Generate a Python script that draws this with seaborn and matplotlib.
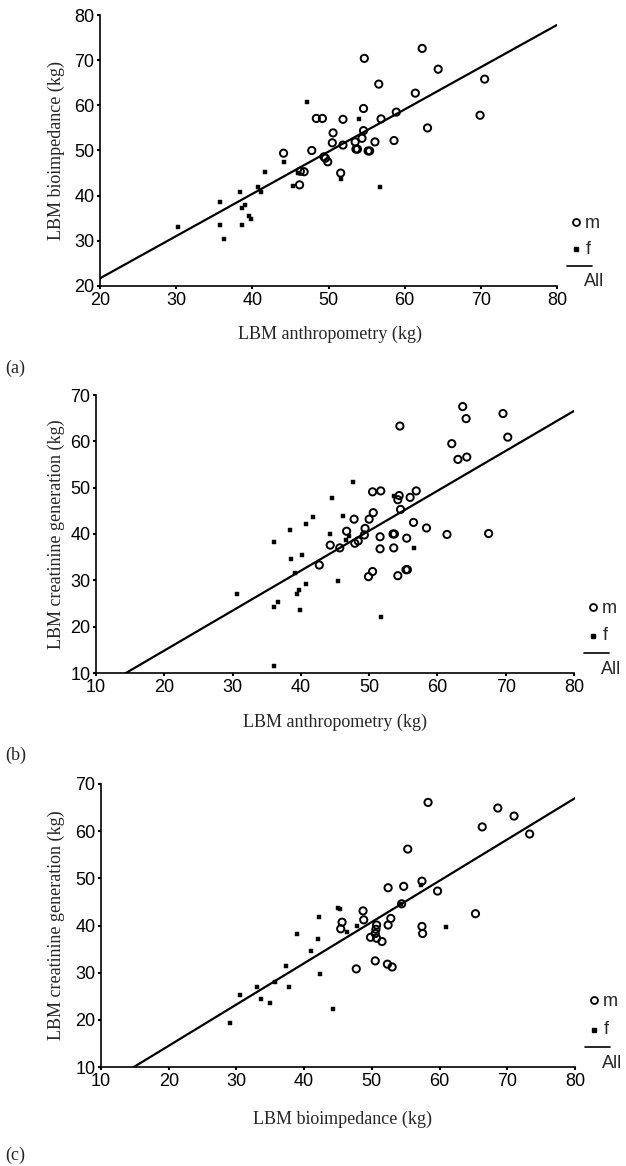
import numpy as np
import pandas as pd
import matplotlib
matplotlib.use("Agg")
import matplotlib.pyplot as plt
from matplotlib.lines import Line2D
import seaborn as sns

# ---------------- data ----------------
# Panel (a): LBM anthropometry (x) vs LBM bioimpedance (y)
a_m_x = [62.3, 54.7, 64.4, 70.5, 56.6, 61.4, 54.6, 69.9, 58.9, 56.9, 51.9, 48.4, 49.2, 63.0,
         50.6, 54.6, 54.4, 50.5, 51.9, 53.5, 53.6, 53.8, 56.1, 55.2, 55.4, 58.6, 47.8, 44.1,
         49.4, 49.6, 49.9, 51.6, 46.3, 46.8, 46.2]
a_m_y = [72.6, 70.4, 68.0, 65.8, 64.7, 62.7, 59.3, 57.8, 58.5, 57.0, 56.9, 57.1, 57.1, 55.0,
         53.9, 54.4, 52.7, 51.7, 51.2, 51.9, 50.3, 50.3, 51.9, 49.9, 49.9, 52.2, 50.0, 49.4,
         48.6, 48.3, 47.5, 45.0, 45.4, 45.3, 42.4]
a_f_x = [47.2, 54.0, 44.2, 41.7, 46.0, 51.7, 45.4, 56.7, 40.8, 41.2, 38.4, 35.8, 39.0, 38.7,
         39.6, 39.8, 35.8, 38.7, 36.3, 30.3]
a_f_y = [60.7, 57.0, 47.5, 45.2, 45.0, 43.8, 42.2, 41.9, 41.9, 40.9, 40.9, 38.7, 37.9, 37.3,
         35.6, 34.8, 33.5, 33.5, 30.4, 33.1]
a_fit = (3.0, 0.935)  # intercept, slope

# Panel (b): LBM anthropometry (x) vs LBM creatinine generation (y)
b_m_x = [63.7, 69.6, 64.2, 54.5, 70.3, 62.1, 63.0, 64.3, 50.5, 51.7, 56.9, 54.4, 54.2, 56.0,
         54.6, 50.6, 47.8, 50.0, 56.5, 58.4, 49.4, 46.7, 49.3, 53.5, 53.7, 61.4, 67.5, 51.6,
         55.5, 44.3, 45.7, 47.9, 48.4, 51.6, 53.6, 42.7, 50.5, 49.9, 54.2, 55.4, 55.6]
b_m_y = [67.5, 66.0, 64.9, 63.3, 60.9, 59.5, 56.1, 56.6, 49.1, 49.3, 49.3, 48.3, 47.4, 47.9,
         45.3, 44.6, 43.2, 43.2, 42.5, 41.3, 41.2, 40.6, 39.8, 40.0, 40.0, 39.9, 40.1, 39.4,
         39.1, 37.6, 37.0, 38.0, 38.5, 36.8, 37.0, 33.3, 31.9, 30.8, 31.0, 32.3, 32.3]
b_f_x = [47.6, 44.6, 53.7, 41.8, 46.2, 40.7, 38.4, 44.2, 46.6, 47.1, 36.1, 40.1, 38.5, 39.1,
         56.6, 40.8, 45.4, 39.7, 39.4, 30.6, 36.7, 36.1, 39.9, 51.7, 36.1]
b_f_y = [51.3, 47.7, 48.3, 43.7, 43.9, 42.1, 40.9, 40.0, 38.6, 39.5, 38.3, 35.5, 34.6, 31.5,
         36.9, 29.3, 29.9, 28.0, 27.0, 27.0, 25.3, 24.2, 23.6, 22.1, 11.6]
b_fit = (-2.4, 0.862)

# Panel (c): LBM bioimpedance (x) vs LBM creatinine generation (y)
c_m_x = [58.3, 68.6, 71.0, 66.3, 73.3, 55.3, 57.4, 52.4, 54.7, 59.7, 54.4, 48.7, 45.6, 48.8,
         52.8, 65.3, 50.7, 52.4, 50.6, 45.4, 57.4, 57.5, 49.8, 50.5, 50.7, 51.5, 47.7, 50.5,
         52.3, 53.0]
c_m_y = [66.1, 64.9, 63.2, 60.9, 59.4, 56.2, 49.4, 48.0, 48.3, 47.3, 44.6, 43.1, 40.7, 41.2,
         41.5, 42.5, 40.1, 40.1, 39.2, 39.3, 39.8, 38.3, 37.5, 38.3, 37.3, 36.6, 30.8, 32.5,
         31.8, 31.2]
c_f_x = [29.05, 30.5, 33.1, 33.6, 34.9, 35.7, 37.3, 37.8, 38.9, 41.0, 42.0, 42.4, 42.2, 44.2,
         45.0, 45.3, 46.4, 47.8, 57.2, 60.9, 54.3]
c_f_y = [19.3, 25.3, 27.0, 24.5, 23.6, 28.1, 31.4, 27.0, 38.3, 34.6, 37.1, 29.8, 41.9, 22.4,
         43.7, 43.6, 38.7, 40.0, 48.5, 39.6, 44.6]
c_fit = (-3.0, 0.875)

xlabels = ["LBM anthropometry (kg)", "LBM anthropometry (kg)", "LBM bioimpedance (kg)"]
ylabels = ["LBM bioimpedance (kg)", "LBM creatinine generation (kg)",
           "LBM creatinine generation (kg)"]
panel_tags = ["(a)", "(b)", "(c)"]
legend_labels = ["m", "f", "All"]
xlims = [(20, 80), (10, 80), (10, 80)]
ylims = [(20, 80), (10, 70), (10, 70)]
xticks = [[20, 30, 40, 50, 60, 70, 80], [10, 20, 30, 40, 50, 60, 70, 80],
          [10, 20, 30, 40, 50, 60, 70, 80]]
yticks = [[20, 30, 40, 50, 60, 70, 80], [10, 20, 30, 40, 50, 60, 70],
          [10, 20, 30, 40, 50, 60, 70]]

# ---------------- style ----------------
sns.set_style("ticks")
plt.rcParams["font.family"] = ["Liberation Sans", "DejaVu Sans"]

W, H = 626, 1166
fig = plt.figure(figsize=(W / 100, H / 100), dpi=100)
fig.patch.set_facecolor("white")

# axes rectangles in pixels: left, right, top, bottom
rects_px = [(100, 557, 15, 286), (96, 574, 395, 673), (101, 575, 784, 1067)]
xlabel_pos = [(0.503, -0.148), (0.50, -0.147), (0.51, -0.155)]
ylabel_x = [-0.0766, -0.0649, -0.076]
tag_y = [368, 755, 1155]
legend_y = [(222, 249, 266, 282), (607, 636, 653, 670), (1000, 1030, 1047, 1063)]

serif = ["Liberation Serif", "DejaVu Serif"]

datasets = [
    (a_m_x, a_m_y, a_f_x, a_f_y, a_fit),
    (b_m_x, b_m_y, b_f_x, b_f_y, b_fit),
    (c_m_x, c_m_y, c_f_x, c_f_y, c_fit),
]

def fx(px):
    return px / W

def fy(py):
    return 1 - py / H

for i, (mx, my, fxs, fys, fit) in enumerate(datasets):
    l, r, t, b = rects_px[i]
    ax = fig.add_axes([l / W, 1 - b / H, (r - l) / W, (b - t) / H])
    ax.set_facecolor("white")

    dm = pd.DataFrame({"x": mx, "y": my})
    df = pd.DataFrame({"x": fxs, "y": fys})
    sns.scatterplot(data=dm, x="x", y="y", ax=ax, marker="o", s=27,
                    facecolor="none", edgecolor="black", linewidth=1.4, zorder=3)
    sns.scatterplot(data=df, x="x", y="y", ax=ax, marker="s", s=10,
                    color="black", edgecolor="black", linewidth=0.3, zorder=3)

    xr = np.array(xlims[i], dtype=float)
    fit_df = pd.DataFrame({"x": xr, "y": fit[0] + fit[1] * xr})
    sns.lineplot(data=fit_df, x="x", y="y", ax=ax, color="black", linewidth=1.6,
                 zorder=2)

    ax.set_xlim(*xlims[i])
    ax.set_ylim(*ylims[i])
    ax.set_xticks(xticks[i])
    ax.set_yticks(yticks[i])
    ax.tick_params(direction="out", length=2.5, width=1.5, pad=1.5,
                   labelsize=13, colors="black")
    for s in ["top", "right"]:
        ax.spines[s].set_visible(False)
    for s in ["left", "bottom"]:
        ax.spines[s].set_linewidth(1.2)
        ax.spines[s].set_color("black")

    ax.set_xlabel(xlabels[i], fontsize=13, family=serif)
    ax.set_ylabel(ylabels[i], fontsize=13, family=serif)
    ax.xaxis.set_label_coords(*xlabel_pos[i])
    ax.yaxis.set_label_coords(ylabel_x[i], 0.5)

    # panel tag
    fig.text(fx(5), fy(tag_y[i]), panel_tags[i], fontsize=13, family=serif,
             ha="left", va="center")

    # custom legend to the right of the panel
    y_m, y_f, y_line, y_all = legend_y[i]
    cx = r + 19
    fig.add_artist(Line2D([fx(cx)], [fy(y_m)], marker="o", markersize=5,
                          markerfacecolor="none", markeredgecolor="black",
                          markeredgewidth=1.3, linestyle="none"))
    fig.text(fx(r + 28), fy(y_m + 2), legend_labels[0], fontsize=13,
             ha="left", va="center")
    fig.add_artist(Line2D([fx(cx)], [fy(y_f)], marker="s", markersize=3,
                          markerfacecolor="black", markeredgecolor="black",
                          linestyle="none"))
    fig.text(fx(r + 29), fy(y_f), legend_labels[1], fontsize=13,
             ha="left", va="center")
    fig.add_artist(Line2D([fx(r + 10), fx(r + 35)], [fy(y_line), fy(y_line)],
                          color="black", linewidth=1.2))
    fig.text(fx(r + 27), fy(y_all), legend_labels[2], fontsize=13,
             ha="left", va="center")

fig.savefig("out.png", dpi=100, facecolor="white")
